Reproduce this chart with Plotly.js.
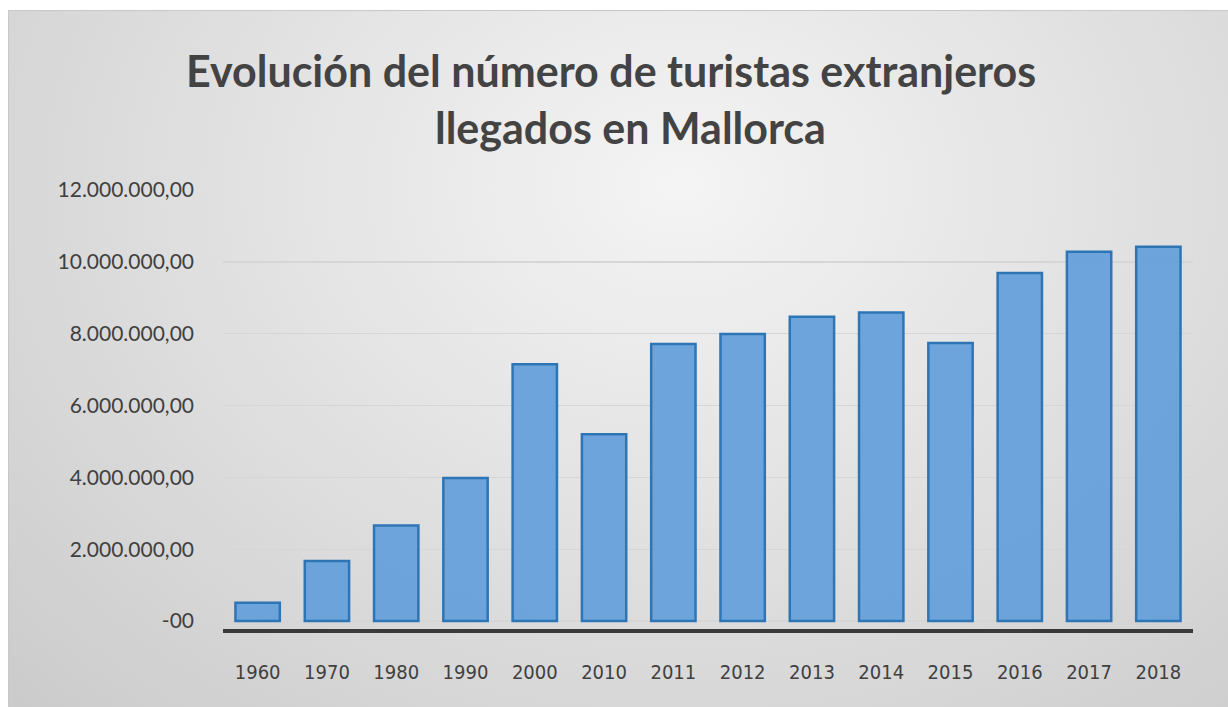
<!DOCTYPE html>
<html>
<head>
<meta charset="utf-8">
<script src="https://cdn.plot.ly/plotly-3.0.1.min.js"></script>
<style>
  html, body { margin: 0; padding: 0; background: #ffffff; }
  #frame {
    position: absolute; left: 8px; top: 10px; width: 1220px; height: 697px;
    border-left: 1px solid #c8c8c8; border-top: 1px solid #c8c8c8;
    background: radial-gradient(ellipse at 55% 25%, #f4f4f4 0%, #e2e2e2 45%, #cbcbcb 100%);
  }
  #chart { position: absolute; left: 0; top: 0; width: 1228px; height: 707px; }
</style>
</head>
<body>
<div id="frame"></div>
<div id="chart"></div>
<script>
// Turistas extranjeros llegados a Mallorca
const years = ['1960', '1970', '1980', '1990', '2000', '2010', '2011', '2012', '2013', '2014', '2015', '2016', '2017', '2018'];
const tourists = [510000, 1670000, 2660000, 3980000, 7150000, 5200000, 7710000, 7990000, 8470000, 8590000, 7740000, 9690000, 10280000, 10420000];

const yTicks = [0, 2000000, 4000000, 6000000, 8000000, 10000000, 12000000];
const yTickText = ['-00', '2.000.000,00', '4.000.000,00', '6.000.000,00', '8.000.000,00', '10.000.000,00', '12.000.000,00'];

const titleLines = ['Evolución del número de turistas extranjeros', 'llegados en Mallorca'];

const barTrace = {
  x: years,
  y: tourists,
  type: 'bar',
  marker: {
    color: 'rgba(102,160,218,0.95)',
    line: { color: '#2e75b6', width: 2.5 }
  },
  hoverinfo: 'x+y'
};

const titleFont = { family: 'Lato, "Open Sans", sans-serif', size: 43, color: '#434343', weight: 'bold' };

const layout = {
  width: 1228,
  height: 707,
  paper_bgcolor: 'rgba(0,0,0,0)',
  plot_bgcolor: 'rgba(0,0,0,0)',
  margin: { t: 190, b: 78, l: 223, r: 35 },
  bargap: 0.36,
  showlegend: false,
  annotations: [
    { text: '<b>' + titleLines[0] + '</b>', xref: 'paper', yref: 'paper', x: 0.4, y: 1.273,
      xanchor: 'center', yanchor: 'middle', showarrow: false, font: titleFont },
    { text: '<b>' + titleLines[1] + '</b>', xref: 'paper', yref: 'paper', x: 0.42, y: 1.1435,
      xanchor: 'center', yanchor: 'middle', showarrow: false, font: titleFont }
  ],
  xaxis: {
    type: 'category',
    range: [-0.5, 13.5],
    showgrid: false,
    showline: true,
    linecolor: '#3a3a3a',
    linewidth: 4,
    ticks: '',
    ticklabelstandoff: 22,
    tickfont: { family: '"Liberation Sans Narrow", "DejaVu Sans Condensed", sans-serif', size: 20, color: '#404040' }
  },
  yaxis: {
    range: [-220000, 12000000],
    tickvals: yTicks,
    ticktext: yTickText,
    showgrid: true,
    gridcolor: '#d6d6d6',
    gridwidth: 1.5,
    zeroline: false,
    showline: false,
    ticks: '',
    ticklabelstandoff: 28,
    tickfont: { family: 'Lato, "Open Sans", sans-serif', size: 21, color: '#404040' }
  }
};

Plotly.newPlot('chart', [barTrace], layout, { displayModeBar: false, staticPlot: true });
</script>
</body>
</html>
